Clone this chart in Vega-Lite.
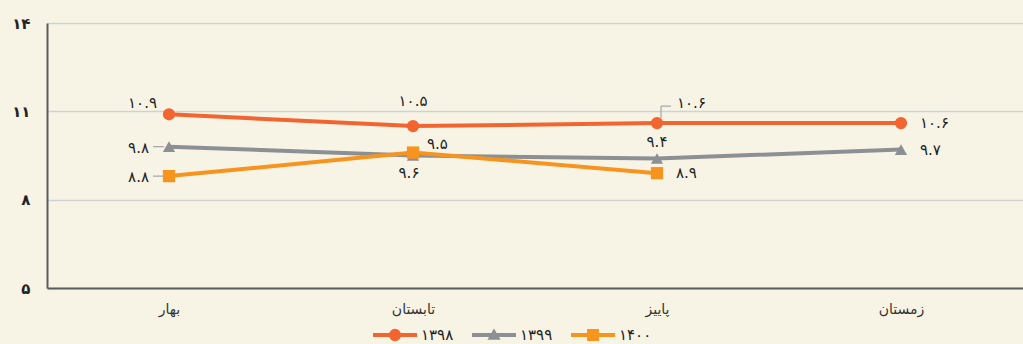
{
  "$schema": "https://vega.github.io/schema/vega-lite/v6.json",
  "width": 976,
  "height": 265,
  "autosize": {"type": "none"},
  "padding": {"left": 47, "top": 23, "right": 0, "bottom": 56},
  "background": "#f7f4e6",
  "config": {
    "font": "DejaVu Sans",
    "view": {"stroke": null},
    "locale": {
      "number": {
        "decimal": ".",
        "thousands": ",",
        "grouping": [3],
        "currency": ["", ""],
        "numerals": ["۰", "۱", "۲", "۳", "۴", "۵", "۶", "۷", "۸", "۹"]
      }
    }
  },
  "data": {
    "values": [
      {"season": "بهار", "year": "1398", "value": 10.9},
      {"season": "تابستان", "year": "1398", "value": 10.5},
      {"season": "پاییز", "year": "1398", "value": 10.6},
      {"season": "زمستان", "year": "1398", "value": 10.6},
      {"season": "بهار", "year": "1399", "value": 9.8},
      {"season": "تابستان", "year": "1399", "value": 9.5},
      {"season": "پاییز", "year": "1399", "value": 9.4},
      {"season": "زمستان", "year": "1399", "value": 9.7},
      {"season": "بهار", "year": "1400", "value": 8.8},
      {"season": "تابستان", "year": "1400", "value": 9.6},
      {"season": "پاییز", "year": "1400", "value": 8.9}
    ]
  },
  "encoding": {
    "x": {
      "field": "season",
      "type": "ordinal",
      "sort": ["بهار", "تابستان", "پاییز", "زمستان"],
      "scale": {"type": "point", "padding": 0.5},
      "axis": {
        "title": null,
        "labelAngle": 0,
        "labelFontSize": 14,
        "labelColor": "#333333",
        "labelPadding": 14,
        "ticks": false,
        "grid": false,
        "domainColor": "#5a5c5e",
        "domainWidth": 2
      }
    },
    "y": {
      "field": "value",
      "type": "quantitative",
      "scale": {"domain": [5, 14], "nice": false, "zero": false},
      "axis": {
        "title": null,
        "values": [5, 8, 11, 14],
        "format": "d",
        "labelFontSize": 15,
        "labelFontWeight": "bold",
        "labelColor": "#222222",
        "labelPadding": 17,
        "ticks": false,
        "grid": true,
        "gridColor": "#cfd1d2",
        "gridWidth": 1.5,
        "domainColor": "#5a5c5e",
        "domainWidth": 2
      }
    },
    "color": {
      "field": "year",
      "type": "nominal",
      "scale": {"domain": ["1398", "1399", "1400"], "range": ["#f26531", "#8c9094", "#f7941e"]},
      "legend": {
        "title": null,
        "orient": "none",
        "legendX": 326,
        "legendY": 290,
        "direction": "horizontal",
        "symbolSize": 1936,
        "symbolStrokeWidth": 0,
        "symbolOpacity": 1,
        "labelFontSize": 15,
        "labelColor": "#222222",
        "labelOffset": 4,
        "columnPadding": 18,
        "labelExpr": "format(toNumber(datum.label), 'd')",
        "symbolType": {
          "expr": "datum.value == '1398' ? 'M-1,-0.09H1V0.09H-1Z M0.28,0L0.259,0.107L0.198,0.198L0.107,0.259L0,0.28L-0.107,0.259L-0.198,0.198L-0.259,0.107L-0.28,0L-0.259,-0.107L-0.198,-0.198L-0.107,-0.259L0,-0.28L0.107,-0.259L0.198,-0.198L0.259,-0.107Z' : datum.value == '1399' ? 'M-1,-0.09H1V0.09H-1Z M0,-0.3L0.3,0.22L-0.3,0.22Z' : 'M-1,-0.09H1V0.09H-1Z M-0.27,-0.27H0.27V0.27H-0.27Z'"
        }
      }
    }
  },
  "layer": [
    {
      "transform": [{"filter": "datum.season == 'بهار' && datum.year != '1398'"}],
      "mark": {"type": "rule", "color": "#a3a5a6", "strokeWidth": 1.2, "xOffset": -16, "x2Offset": -5},
      "encoding": {"x2": {"field": "season"}, "color": {"value": "#a3a5a6"}}
    },
    {
      "transform": [{"filter": "datum.season == 'پاییز' && datum.year == '1398'"}],
      "mark": {"type": "rule", "strokeWidth": 1.2, "xOffset": 4, "yOffset": -5, "y2Offset": -17},
      "encoding": {"y2": {"field": "value"}, "color": {"value": "#a3a5a6"}}
    },
    {
      "transform": [{"filter": "datum.season == 'پاییز' && datum.year == '1398'"}],
      "mark": {"type": "rule", "strokeWidth": 1.2, "xOffset": 4, "x2Offset": 14, "yOffset": -17},
      "encoding": {"x2": {"field": "season"}, "color": {"value": "#a3a5a6"}}
    },
    {
      "mark": {"type": "line", "strokeWidth": 4}
    },
    {
      "transform": [{"filter": "datum.year == '1398'"}],
      "mark": {"type": "point", "filled": true, "opacity": 1, "size": 150, "shape": "circle"}
    },
    {
      "transform": [{"filter": "datum.year == '1399'"}],
      "mark": {"type": "point", "filled": true, "opacity": 1, "size": 150, "shape": "triangle-up"}
    },
    {
      "transform": [{"filter": "datum.year == '1400'"}],
      "mark": {"type": "point", "filled": true, "opacity": 1, "size": 150, "shape": "square"}
    },
    {
      "transform": [{"filter": "datum.season == 'بهار' && datum.year == '1398'"}],
      "mark": {"type": "text", "align": "right", "baseline": "middle", "dx": -12, "dy": -11, "fontSize": 15},
      "encoding": {"color": {"value": "#222222"}, "text": {"field": "value", "type": "quantitative", "format": ".1f"}}
    },
    {
      "transform": [{"filter": "datum.season == 'بهار' && datum.year != '1398'"}],
      "mark": {"type": "text", "align": "right", "baseline": "middle", "dx": -20, "dy": 1, "fontSize": 15},
      "encoding": {"color": {"value": "#222222"}, "text": {"field": "value", "type": "quantitative", "format": ".1f"}}
    },
    {
      "transform": [{"filter": "datum.season == 'تابستان' && datum.year == '1398'"}],
      "mark": {"type": "text", "align": "center", "baseline": "middle", "dy": -25, "fontSize": 15},
      "encoding": {"color": {"value": "#222222"}, "text": {"field": "value", "type": "quantitative", "format": ".1f"}}
    },
    {
      "transform": [{"filter": "datum.season == 'تابستان' && datum.year == '1399'"}],
      "mark": {"type": "text", "align": "left", "baseline": "middle", "dx": 14, "dy": -12, "fontSize": 15},
      "encoding": {"color": {"value": "#222222"}, "text": {"field": "value", "type": "quantitative", "format": ".1f"}}
    },
    {
      "transform": [{"filter": "datum.season == 'تابستان' && datum.year == '1400'"}],
      "mark": {"type": "text", "align": "center", "baseline": "middle", "dx": -4, "dy": 20, "fontSize": 15},
      "encoding": {"color": {"value": "#222222"}, "text": {"field": "value", "type": "quantitative", "format": ".1f"}}
    },
    {
      "transform": [{"filter": "datum.season == 'پاییز' && datum.year == '1398'"}],
      "mark": {"type": "text", "align": "left", "baseline": "middle", "dx": 20, "dy": -20, "fontSize": 15},
      "encoding": {"color": {"value": "#222222"}, "text": {"field": "value", "type": "quantitative", "format": ".1f"}}
    },
    {
      "transform": [{"filter": "datum.season == 'پاییز' && datum.year == '1399'"}],
      "mark": {"type": "text", "align": "center", "baseline": "middle", "dy": -16, "fontSize": 15},
      "encoding": {"color": {"value": "#222222"}, "text": {"field": "value", "type": "quantitative", "format": ".1f"}}
    },
    {
      "transform": [{"filter": "(datum.season == 'پاییز' && datum.year == '1400') || datum.season == 'زمستان'"}],
      "mark": {"type": "text", "align": "left", "baseline": "middle", "dx": 19, "fontSize": 15},
      "encoding": {"color": {"value": "#222222"}, "text": {"field": "value", "type": "quantitative", "format": ".1f"}}
    }
  ]
}
